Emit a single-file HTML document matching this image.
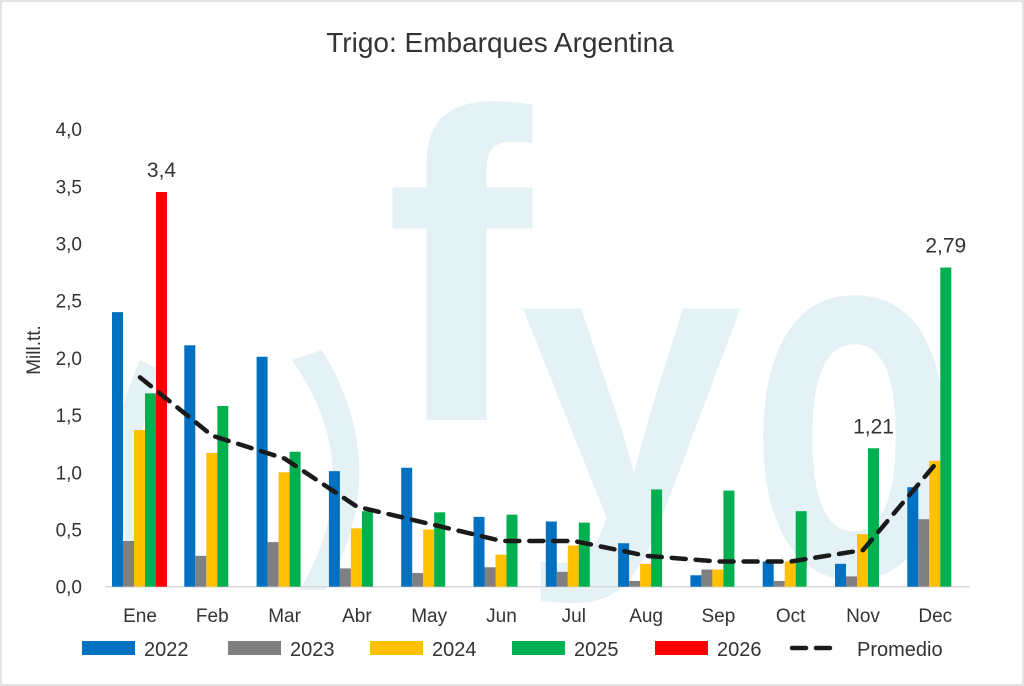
<!DOCTYPE html>
<html><head><meta charset="utf-8"><style>
html,body{margin:0;background:#fff;width:1024px;height:686px;overflow:hidden;}
svg{display:block;font-family:"Liberation Sans",sans-serif;}
</style></head><body>
<svg id="chart" width="1024" height="686">
<defs><clipPath id="frameclip"><rect x="0" y="0" width="1024" height="686"/></clipPath></defs>
<rect x="1" y="1" width="1022" height="684" fill="#fff" stroke="#c8c8c8"/>
<g fill="#e4f1f5" clip-path="url(#frameclip)">
<text x="385" y="420" font-size="440" font-weight="bold">f</text>
<text x="520" y="520" font-size="400" font-weight="bold">y</text>
<text transform="translate(750,575) scale(0.85,1.3)" font-size="400" font-weight="bold">o</text>
<path d="M140,360 Q90,470 140,580 L155,570 Q120,470 160,370 Z"/>
<path d="M292,360 Q370,470 300,590 L325,590 Q395,470 322,350 Z"/>
</g>
<text x="500" y="52" font-size="28" text-anchor="middle" fill="#333">Trigo: Embarques Argentina</text>
<text transform="translate(40,350) rotate(-90)" font-size="19" text-anchor="middle" fill="#333">Mill.tt.</text>
<g id="axes"></g><g id="bars"></g><g id="line"></g><g id="legend"></g>
</svg>
<script>
const months=["Ene","Feb","Mar","Abr","May","Jun","Jul","Aug","Sep","Oct","Nov","Dec"];
const s2022=[2.40,2.11,2.01,1.01,1.04,0.61,0.57,0.38,0.10,0.22,0.20,0.87];
const s2023=[0.40,0.27,0.39,0.16,0.12,0.17,0.13,0.05,0.15,0.05,0.09,0.59];
const s2024=[1.37,1.17,1.00,0.51,0.50,0.28,0.36,0.20,0.15,0.22,0.46,1.10];
const s2025=[1.69,1.58,1.18,0.66,0.65,0.63,0.56,0.85,0.84,0.66,1.21,2.79];
const s2026=[3.45,null,null,null,null,null,null,null,null,null,null,null];
const promedio=[1.83,1.32,1.12,0.70,0.55,0.40,0.40,0.27,0.22,0.22,0.32,1.07];
const yTicks=["0,0","0,5","1,0","1,5","2,0","2,5","3,0","3,5","4,0"];
const dataLabels=[{s:4,i:0,t:"3,4"},{s:3,i:10,t:"1,21"},{s:3,i:11,t:"2,79"}];
const series=[s2022,s2023,s2024,s2025,s2026];
const colors=["#0070c0","#808080","#ffc000","#00b050","#ff0000"];
const names=["2022","2023","2024","2025","2026"];
const NS="http://www.w3.org/2000/svg";
const y=v=>586.7-v*114.4;
const x=i=>140+i*72.3;
const bw=11;
function mk(tag,attrs,parent,text){const e=document.createElementNS(NS,tag);for(const k in attrs)e.setAttribute(k,attrs[k]);if(text!==undefined)e.textContent=text;parent.appendChild(e);return e;}
const ax=document.getElementById('axes');
yTicks.forEach((t,k)=>{const e=mk('text',{x:82,y:y(k*0.5)+7,'font-size':19,'text-anchor':'end',fill:'#333'},ax,t);

});
const base=mk('line',{x1:105,x2:970,y1:y(0),y2:y(0),stroke:'#d9d9d9','stroke-width':1.5},ax);


months.forEach((m,i)=>{const e=mk('text',{x:x(i),y:622,'font-size':19,'text-anchor':'middle',fill:'#333'},ax,m);

});
const bg=document.getElementById('bars');
series.forEach((s,k)=>{s.forEach((v,i)=>{if(v==null)return;
const r=mk('rect',{x:x(i)-28+k*bw,y:y(v),width:bw,height:y(0)-y(v),fill:colors[k]},bg);

});});
dataLabels.forEach(d=>{const v=series[d.s][d.i];const e=mk('text',{x:x(d.i)-28+d.s*bw+bw/2,y:y(v)-15,'font-size':21,'text-anchor':'middle',fill:'#333'},bg,d.t);

});
const lg=document.getElementById('line');
const pl=mk('polyline',{points:promedio.map((v,i)=>x(i)+','+y(v)).join(' '),fill:'none',stroke:'#1a1a1a','stroke-width':4.5,'stroke-dasharray':'14,10','stroke-linecap':'round'},lg);


const L=document.getElementById('legend');
const lx=[82,228,370,512,655];
names.forEach((n,k)=>{const g=mk('g',{},L);


mk('rect',{x:lx[k],y:641,width:53,height:14,fill:colors[k]},g);
mk('text',{x:lx[k]+62,y:656,'font-size':20,fill:'#333'},g,n);});
const gp=mk('g',{},L);


mk('line',{x1:792,x2:840,y1:648,y2:648,stroke:'#1a1a1a','stroke-width':4.5,'stroke-dasharray':'14,10','stroke-linecap':'round'},gp);
mk('text',{x:857,y:656,'font-size':20,fill:'#333'},gp,'Promedio');
</script>
</body></html>
